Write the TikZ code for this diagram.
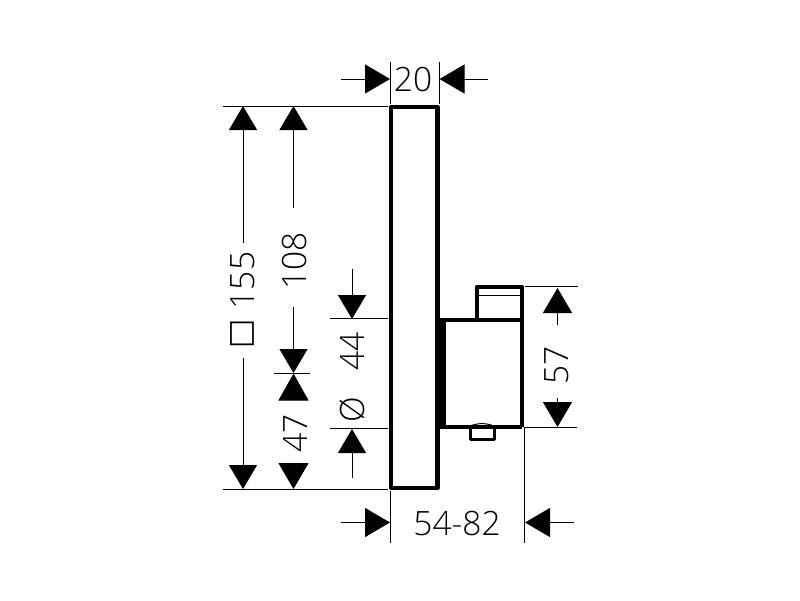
\documentclass[tikz,border=0pt]{standalone}
\usepackage{fontspec}
\setmainfont{Open Sans Light}
\newfontfamily\symbfont{DejaVu Sans}
\usetikzlibrary{
	arrows.meta,
	calc,
	}
\tikzset{
	body/.style={line width=4.4pt, line join=round},
	thinbody/.style={line width=1pt},
	ext/.style={line width=1pt},
	dimarrow/.style={line width=1pt, -{Triangle[length=24pt,width=28pt]}},
	dimtext/.style={font=\fontsize{33.5}{33.5}\selectfont, inner sep=0pt},
	dimrot/.style={dimtext, rotate=90},
}
\begin{document}
\begin{tikzpicture}[x=1pt,y=-1pt]
		\useasboundingbox (0,0) rectangle (800,600);
		% housing
		\draw[body] (391,107) rectangle (437.5,488);
		\draw[body] (477,320) -- (477,287) -- (522,287) -- (522,427);
		\draw[body] (441,320) -- (522,320);
		\draw[body] (441,427) -- (522,427);
		\fill (438,318) rectangle (446,429);
		\draw[thinbody] (478,295) -- (521,295);
		\draw[line width=3pt, line join=round] (470,429) -- (470,439) -- (494,439) -- (494,429);
		\draw[thinbody] (470,426) to[bend left=20] (494,426);
		% extension lines
		\coordinate (top1) at (223,106);
		\coordinate (top2) at (388,106);
		\coordinate (bot1) at (223,489.5);
		\coordinate (bot2) at (388,489.5);
		\coordinate (dia1) at (330,318.7);
		\coordinate (dia2) at (388,318.7);
		\coordinate (dia3) at (330,428.5);
		\coordinate (dia4) at (388,428.5);
		\coordinate (mid1) at (274,373.5);
		\coordinate (mid2) at (310,373.5);
		\coordinate (rgt1) at (525,286.5);
		\coordinate (rgt2) at (578,286.5);
		\coordinate (rgt3) at (525,427);
		\coordinate (rgt4) at (577,427);
		\coordinate (up1) at (390.5,62);
		\coordinate (up2) at (390.5,104);
		\coordinate (up3) at (439,62);
		\coordinate (up4) at (439,104);
		\coordinate (low1) at (390.5,491);
		\coordinate (low2) at (390.5,543);
		\coordinate (low3) at (524,427);
		\coordinate (low4) at (524,543);
		\draw[ext] (top1) -- (top2);
		\draw[ext] (bot1) -- (bot2);
		\draw[ext] (dia1) -- (dia2);
		\draw[ext] (dia3) -- (dia4);
		\draw[ext] (mid1) -- (mid2);
		\draw[ext] (rgt1) -- (rgt2);
		\draw[ext] (rgt3) -- (rgt4);
		\draw[ext] (up1) -- (up2);
		\draw[ext] (up3) -- (up4);
		\draw[ext] (low1) -- (low2);
		\draw[ext] (low3) -- (low4);
		% labels
		\node[dimtext] (w20) at (413,79.5) {20};
		\node[dimtext] (w5482) at (457,523) {54-82};
		\node[dimrot] (h155) at (243,280.5) {155};
		\node[dimrot, font=\symbfont\fontsize{31}{31}\selectfont] (sq) at (242.5,333.5) {□};
		\node[dimrot] (h108) at (294,261) {108};
		\node[dimrot] (h47) at (295,433) {47};
		\node[dimrot] (h44) at (352.5,351.5) {44};
		\node[dimrot] (dia) at (352.5,410) {Ø};
		\node[dimrot] (h57) at (557,365) {57};
		% arrows
		\coordinate (a1) at (243,243);
		\coordinate (a2) at (243,358);
		\coordinate (b1) at (293.5,208);
		\coordinate (b2) at (293.5,307);
		\coordinate (c1) at (352,269);
		\coordinate (c2) at (352,478);
		\coordinate (d1) at (557.5,325);
		\coordinate (d2) at (557.5,398);
		\coordinate (e1) at (341,79);
		\coordinate (e2) at (488,79);
		\coordinate (f1) at (341,522.5);
		\coordinate (f2) at (574,522.5);
		\draw[dimarrow] (a1) -- (243,106);
		\draw[dimarrow] (a2) -- (243,489);
		\draw[dimarrow] (b1) -- (293.5,106);
		\draw[dimarrow] (b2) -- (293.5,373);
		\draw[dimarrow, -{Triangle[length=27pt,width=30pt]}] (293.5,385) -- (293.5,373.5);
		\draw[dimarrow, -{Triangle[length=26pt,width=30pt]}] (293.5,470) -- (293.5,489);
		\draw[dimarrow] (c1) -- (352,319);
		\draw[dimarrow] (c2) -- (352,429);
		\draw[dimarrow, -{Triangle[length=25pt,width=29pt]}] (d1) -- (557.5,288);
		\draw[dimarrow, -{Triangle[length=25pt,width=29pt]}] (d2) -- (557.5,427);
		\draw[dimarrow, -{Triangle[length=25pt,width=29pt]}] (e1) -- (390,79);
		\draw[dimarrow, -{Triangle[length=25pt,width=29pt]}] (e2) -- (439.5,79);
		\draw[dimarrow, -{Triangle[length=25pt,width=29pt]}] (f1) -- (390,522.5);
		\draw[dimarrow, -{Triangle[length=25pt,width=29pt]}] (f2) -- (525,522.5);
	\end{tikzpicture}
\end{document}
